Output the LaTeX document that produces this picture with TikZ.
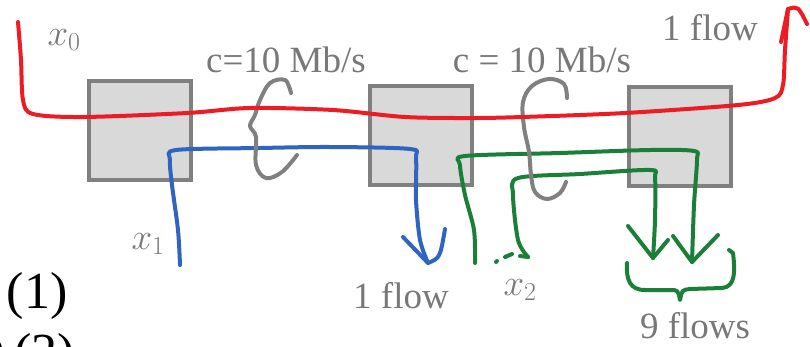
\RequirePackage{fix-cm}
\documentclass[tikz,border=0pt]{standalone}
\usepackage{fontspec}
\setmainfont{Liberation Serif}
\usetikzlibrary{positioning,arrows.meta}
\definecolor{boxfill}{RGB}{217,217,217}
\definecolor{boxline}{RGB}{128,128,128}
\definecolor{txtgray}{RGB}{120,120,120}
\definecolor{flowred}{RGB}{237,28,36}
\definecolor{flowblue}{RGB}{47,100,192}
\definecolor{flowgreen}{RGB}{26,128,56}

\begin{document}
\begin{tikzpicture}
 	[x=1pt, y=-1pt,
 	 router/.style={draw=boxline,fill=boxfill,line width=3.5pt,minimum width=102pt,minimum height=99pt,inner sep=0pt,anchor=north west},
 	 lbl/.style={text=txtgray,inner sep=0pt,font=\fontsize{37}{40}\selectfont},
 	 eqn/.style={text=black,inner sep=0pt,font=\fontsize{52}{56}\selectfont},
 	 hand/.style={line width=4pt,line cap=round,line join=round},
 	 brace/.style={hand,draw=boxline}]
 \useasboundingbox (0,0) rectangle (810,346);
 \node (r1) [router] at (87,79) {};
 \node (r2) [router] at (368,84) {};
 \node (r3) [router] at (627,85) {};
 % flow ends
 \coordinate (x0in) at (18,22);
 \coordinate (x0out) at (788,9);
 \coordinate (x1in) at (180,265);
 \coordinate (x1out) at (428,263);
 \coordinate (x2a) at (475,263);
 \coordinate (x2b) at (528,257);
 \coordinate (x2aout) at (692,262);
 \coordinate (x2bout) at (653,258);
 % blue
 \draw[hand,flowblue] plot[smooth,tension=0.5] coordinates {(x1in) (178,230) (172,185) (170,160) (176,150) (260,148) (330,147) (410,149) (416,158) (416,200) (420,240) (x1out)};
 \draw[hand,flowblue] (403,237) -- (x1out) .. controls (440,258) .. (445,229);
 % green
 \draw[hand,flowgreen] plot[smooth,tension=0.5] coordinates {(x2a) (474,230) (465,195) (460,165) (465,156) (560,153) (650,150) (694,151) (697,160) (694,205) (x2aout)};
 \draw[hand,flowgreen] plot[smooth,tension=0.5] coordinates {(x2b) (518,240) (513,195) (518,178) (580,174) (650,170) (655,178) (655,220) (x2bout)};
 \draw[hand,flowgreen] (520,256) -- (x2b);
 \draw[hand,flowgreen] (673,236) -- (x2aout) -- (718,235);
 \draw[hand,flowgreen] (628,226) -- (x2bout) -- (668,240);
 \draw[hand,flowgreen] (496,262) -- (497,261);
 \draw[hand,flowgreen] (505,257) -- (512,254);
 \draw[hand,flowgreen] (627,263) .. controls (626,280) and (630,290) .. (645,290) -- (670,290) .. controls (678,290) .. (680,300) .. controls (682,290) .. (690,289) -- (722,288) .. controls (736,287) and (735,270) .. (733,253) -- (729,250);
 % capacity braces
 \draw[brace] plot[smooth,tension=0.6] coordinates {(291,93) (285,80) (270,83) (260,100) (255,115) (250,126) (256,137) (256,165) (266,178) (282,172) (297,155)};
 \draw[brace] plot[smooth,tension=0.6] coordinates {(567,98) (564,84) (549,79) (532,86) (523,102) (524,127) (529,152) (531,175) (535,192) (547,199) (560,193) (566,182)};
 % red
 \draw[hand,flowred] plot[smooth,tension=0.5] coordinates {(x0in) (21,60) (23,100) (33,114) (83,117) (187,113) (250,108) (333,110) (405,117) (472,118) (522,117) (625,113) (738,105) (775,98) (783,85) (785,50) (x0out)};
 \draw[hand,flowred] (781,42) -- (x0out) .. controls (798,6) .. (807,24);
 \node (x0) [lbl] at (64,40) {$x_0$};
 \node (x1) [lbl] at (148,244) {$x_1$};
 \node (x2) [lbl] at (520,290) {$x_2$};
 \node (c1) [lbl] at (286,60) {c=10 Mb/s};
 \node (c2) [lbl] at (542,60) {c = 10 Mb/s};
 \node (f1) [lbl] at (710,28) {1 flow};
 \node (f2) [lbl] at (401,296) {1 flow};
 \node (f9) [lbl] at (695,326) {9 flows};
 \node (e1) [eqn] at (37,296) {(1)};
 \node (e2) [eqn, anchor=north west] at (-12,333) {)\,(2)};
\end{tikzpicture}
\end{document}
